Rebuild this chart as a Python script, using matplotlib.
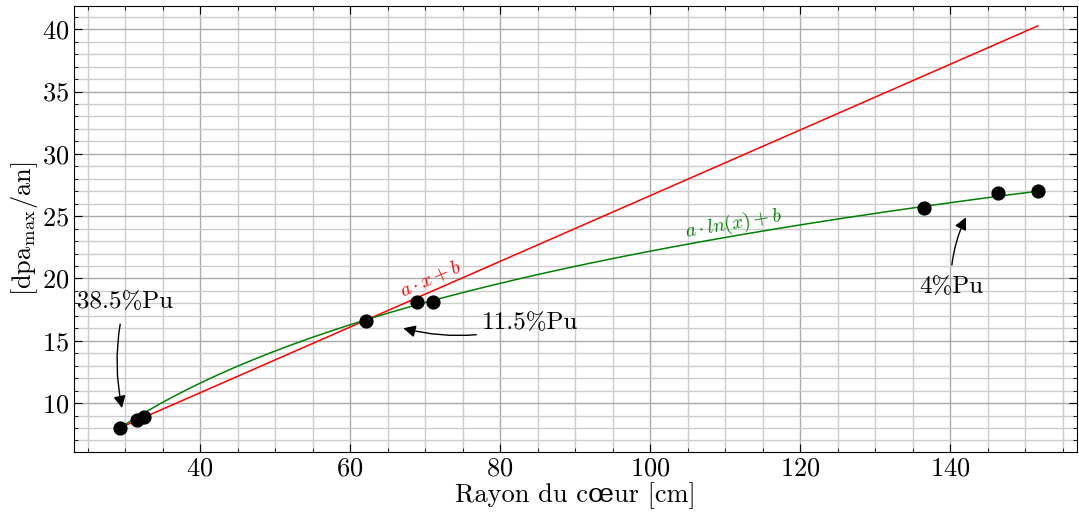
import numpy as np
import matplotlib
matplotlib.use("Agg")
import matplotlib.pyplot as plt
from matplotlib.ticker import MultipleLocator

plt.rcParams['font.family'] = ['cmr10', 'DejaVu Serif']
plt.rcParams['mathtext.fontset'] = 'cm'
plt.rcParams['axes.formatter.use_mathtext'] = True

# core radius [cm] vs max dpa per year
rayon = [29.3, 31.6, 32.5, 62.1, 68.9, 71.1, 136.5, 146.4, 151.7]
dpa = [8.0, 8.6, 8.9, 16.6, 18.1, 18.1, 25.65, 26.85, 27.0]

# fit coefficients
lin_a, lin_b = 0.2636, 0.28
log_a, log_b = 11.56, -31.05

x_fit = np.linspace(min(rayon), max(rayon), 300)

fig = plt.figure(figsize=(10.79, 5.14), dpi=100)
ax = fig.add_axes([0.0686, 0.1206, 0.9294, 0.8674])

ax.plot(x_fit, lin_a * x_fit + lin_b, color='red', lw=1.1, zorder=3)
ax.plot(x_fit, log_a * np.log(x_fit) + log_b, color='green', lw=1.1, zorder=3)
ax.scatter(rayon, dpa, color='black', s=85, zorder=4)

ax.text(70.7, 20.0, r'$a\cdot x+b$', color='red', fontsize=14, rotation=23.5,
        ha='center', va='center')
ax.text(111.1, 24.4, r'$a\cdot ln(x)+b$', color='green', fontsize=14, rotation=9.5,
        ha='center', va='center')

arrow = dict(arrowstyle='-|>', color='black', lw=1, mutation_scale=18, shrinkB=0)
ax.annotate('38.5%Pu', xy=(29.6, 9.6), xytext=(30.0, 18.1), fontsize=18,
            ha='center', va='center',
            arrowprops=dict(arrow, shrinkA=6, connectionstyle='arc3,rad=0.12'))
ax.annotate('11.5%Pu', xy=(67.1, 16.0), xytext=(84.0, 16.4), fontsize=18,
            ha='center', va='center',
            arrowprops=dict(arrow, shrinkA=2, connectionstyle='arc3,rad=-0.15'))
ax.annotate('4%Pu', xy=(142.1, 24.9), xytext=(140.1, 19.3), fontsize=18,
            ha='center', va='center',
            arrowprops=dict(arrow, shrinkA=6, connectionstyle='arc3,rad=-0.12'))

ax.set_xlim(23.2, 156.9)
ax.set_ylim(6.07, 41.85)
ax.xaxis.set_major_locator(MultipleLocator(20))
ax.xaxis.set_minor_locator(MultipleLocator(5))
ax.yaxis.set_major_locator(MultipleLocator(5))
ax.yaxis.set_minor_locator(MultipleLocator(1))
ax.tick_params(which='both', direction='in', top=True, right=True, labelsize=19)
ax.tick_params(which='major', length=6)
ax.tick_params(which='minor', length=3)
ax.grid(which='major', color='#aaaaaa', lw=1)
ax.grid(which='minor', color='#cccccc', lw=1)
ax.set_axisbelow(True)

ax.set_xlabel('Rayon du cœur [cm]', fontsize=19, labelpad=1)
ax.set_ylabel(r'[dpa$_{\mathrm{max}}$/an]', fontsize=19, labelpad=1)

fig.savefig('out.png', dpi=100)
